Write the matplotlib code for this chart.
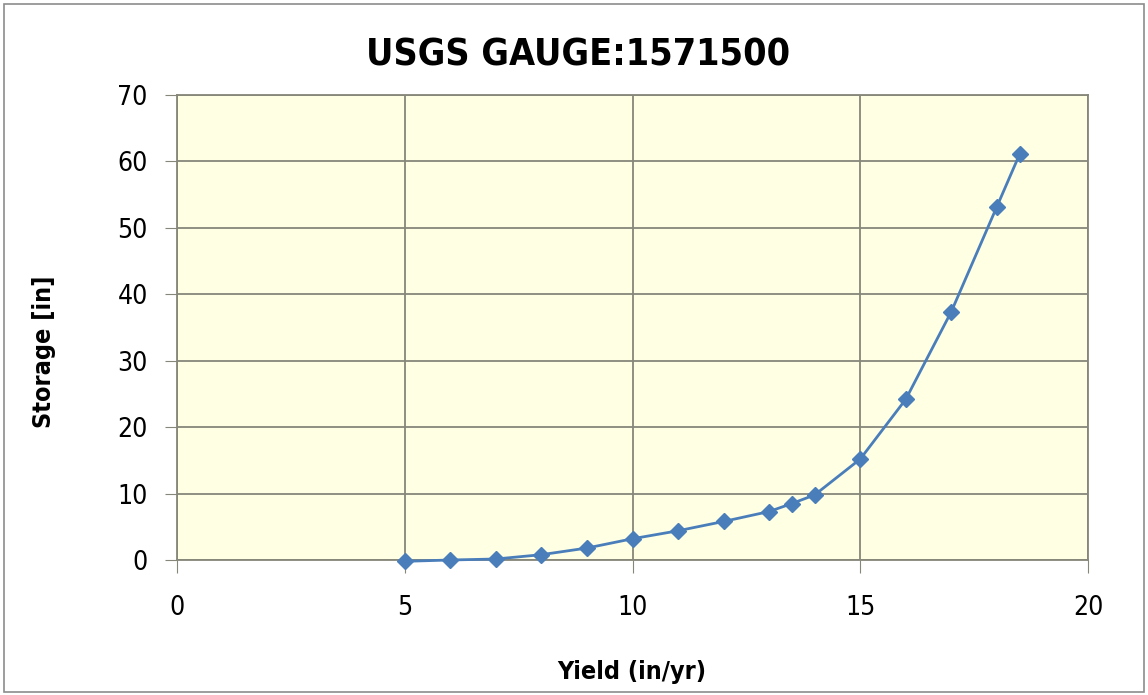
import matplotlib
matplotlib.use("Agg")
import matplotlib.pyplot as plt
from matplotlib.patches import Rectangle
from matplotlib import font_manager

entries = font_manager.fontManager.ttflist
names = {f.name for f in entries}
has_cond = any(f.name == "DejaVu Sans" and str(f.stretch) in ("condensed", "semi-condensed") for f in entries)
if "Liberation Sans Narrow" in names:
    plt.rcParams['font.family'] = ["Liberation Sans Narrow", "DejaVu Sans"]
    stretch = "normal"
else:
    plt.rcParams['font.family'] = ["DejaVu Sans"]
    stretch = "condensed" if has_cond else "normal"
plt.rcParams['font.stretch'] = stretch
scale = 1.0 if stretch != "normal" or "Liberation Sans Narrow" in names else 0.88

yield_in_yr = [5, 6, 7, 8, 9, 10, 11, 12, 13, 13.5, 14, 15, 16, 17, 18, 18.5]
storage_in = [-0.2, 0.0, 0.15, 0.8, 1.8, 3.2, 4.4, 5.8, 7.3, 8.5, 9.8, 15.2, 24.2, 37.4, 53.2, 61.1]
x_ticks = [0, 5, 10, 15, 20]
y_ticks = [0, 10, 20, 30, 40, 50, 60, 70]

W, H = 1148, 695
fig = plt.figure(figsize=(W / 100, H / 100), dpi=100)
fig.patch.set_facecolor("white")
fig.patches.append(Rectangle((4/W, 3/H), 1140/W, 688/H, transform=fig.transFigure,
                             fill=False, edgecolor="#8c8c8c", linewidth=1.2))

ax = fig.add_axes([177/W, 1 - 560/H, (1088-177)/W, (560-95)/H])
ax.set_facecolor("#FFFFE3")
ax.plot(yield_in_yr, storage_in, color="#4A7EBB", linewidth=2, marker="D", markersize=8,
        markerfacecolor="#4A7EBB", markeredgecolor="#4A7EBB", zorder=3, clip_on=False)
ax.set_xlim(0, 20)
ax.set_ylim(0, 70)
ax.set_xticks(x_ticks)
ax.set_yticks(y_ticks)
ax.grid(True, color="#86867a", linewidth=1.3)
ax.set_axisbelow(True)
for s in ax.spines.values():
    s.set_color("#86867a")
    s.set_linewidth(1.3)
ax.tick_params(axis="both", direction="out", length=9, color="#86867a", labelsize=19 * scale)
ax.tick_params(axis="y", pad=12)
ax.tick_params(axis="x", pad=16)

fig.text(578/W, 1 - 55/H, "USGS GAUGE:1571500", fontsize=27 * scale, fontweight="bold",
         ha="center", va="center")
fig.text(632/W, 1 - 672/H, "Yield (in/yr)", fontsize=18 * scale, fontweight="bold",
         ha="center", va="center")
fig.text(44/W, 1 - 352/H, "Storage [in]", fontsize=18 * scale, fontweight="bold",
         ha="center", va="center", rotation=90)

fig.savefig("out.png", dpi=100, facecolor="white")
